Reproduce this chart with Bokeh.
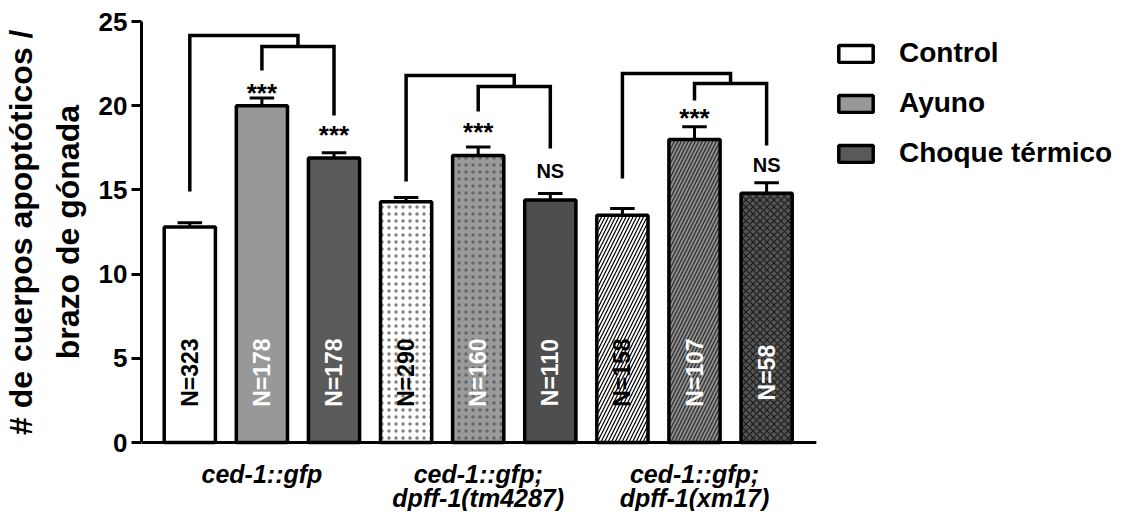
from bokeh.plotting import figure
from bokeh.models import Range1d, FixedTicker, Legend, LegendItem, ColumnDataSource, Title
from bokeh.core.properties import value
from bokeh.embed import file_html
from bokeh.resources import INLINE

# ---------------- data ----------------
groups = ["ced-1::gfp", "ced-1::gfp;\ndpff-1(tm4287)", "ced-1::gfp;\ndpff-1(xm17)"]
conditions = ["Control", "Ayuno", "Choque térmico"]
means = [12.8, 20.0, 16.9, 14.3, 17.05, 14.4, 13.5, 18.0, 14.8]
sems = [0.25, 0.45, 0.3, 0.25, 0.5, 0.38, 0.4, 0.75, 0.62]
n_counts = [323, 178, 178, 290, 160, 110, 158, 107, 58]
sig_labels = ["", "***", "***", "", "***", "NS", "", "***", "NS"]
y_title = ["# de cuerpos apoptóticos /", "brazo de gónada"]
y_ticks = [0, 5, 10, 15, 20, 25]

# annotation layout (y levels of significance marks and brackets)
sig_y = [0, 21.0, 18.5, 0, 18.65, 16.15, 0, 19.5, 16.45]
bracket_outer = [24.17, 21.79, 21.91]
bracket_inner = [23.52, 21.14, 21.32]
leg_end = [14.9, 22.09, 19.42, 15.5, 19.66, 17.46, 15.68, 20.31, 17.64]
label_line_y = [-1.85, -3.3]

FONT = "Liberation Sans"

# styles per bar
fills = ["#ffffff", "#989898", "#5a5a5a",
         "#ffffff", "#9a9a9a", "#4e4e4e",
         "#ffffff", "#8e8e8e", "#555555"]
hatches = ["blank", "blank", "blank",
           "dot", "dot", "blank",
           "right_diagonal_line", "right_diagonal_line", "diagonal_cross"]
hatch_colors = ["#000000", "#000000", "#000000",
                "#808080", "#666666", "#000000",
                "#000000", "#2a2a2a", "#1a1a1a"]
text_colors = ["black", "white", "white"] * 3

xs = [g * 3 + c for g in range(len(groups)) for c in range(len(conditions))]
tops = [m + s for m, s in zip(means, sems)]

src = ColumnDataSource(dict(x=xs, top=means, fill=fills, hatch=hatches,
                            hcol=hatch_colors))

X0, X1 = -0.67, 8.69
PX_PER_X = 72.1
FRAME_W = 979
YMAX = 25
PX_PER_UNIT = 421 / YMAX
FRAME_H = 490
YMIN = YMAX - FRAME_H / PX_PER_UNIT

p = figure(frame_width=FRAME_W, frame_height=FRAME_H,
           x_range=Range1d(X0, X0 + FRAME_W / PX_PER_X), y_range=Range1d(YMIN, YMAX),
           output_backend="svg", toolbar_location=None,
           min_border_left=140, min_border_top=21,
           min_border_bottom=0, min_border_right=0)
p.outline_line_color = None
p.xgrid.grid_line_color = None
p.ygrid.grid_line_color = None
p.background_fill_color = "white"
p.xaxis.visible = False

bars = p.vbar(x="x", top="top", bottom=0, width=0.71, source=src,
              fill_color="fill", line_color="black", line_width=3.5,
              hatch_pattern="hatch", hatch_color="hcol", hatch_scale=7,
              hatch_weight=1.2)

# x axis baseline
p.segment(x0=[X0], y0=[0], x1=[X1], y1=[0], line_color="black", line_width=3)

# error bars (upper only)
p.segment(x0=xs, y0=means, x1=xs, y1=tops, line_color="black", line_width=3)
p.segment(x0=[x - 0.17 for x in xs], y0=tops, x1=[x + 0.17 for x in xs], y1=tops,
          line_color="black", line_width=3)

# N labels
p.text(x=xs, y=[4.15] * len(xs), text=[f"N={n}" for n in n_counts],
       angle=1.5708, text_align="center", text_baseline="middle",
       text_font=value(FONT), text_font_style="bold", text_font_size="23px",
       text_color=text_colors)

# significance labels
star_idx = [i for i, s in enumerate(sig_labels) if s == "***"]
ns_idx = [i for i, s in enumerate(sig_labels) if s == "NS"]
p.text(x=[xs[i] for i in star_idx], y=[sig_y[i] for i in star_idx],
       text=["***"] * len(star_idx), text_align="center", text_baseline="middle",
       y_offset=4, text_font=value(FONT), text_font_style="bold",
       text_font_size="26px", text_color="black")
p.text(x=[xs[i] for i in ns_idx], y=[sig_y[i] for i in ns_idx],
       text=["NS"] * len(ns_idx), text_align="center", text_baseline="middle",
       text_font=value(FONT), text_font_style="bold",
       text_font_size="20px", text_color="black")

# brackets
bx, by = [], []
for g in range(len(groups)):
    i0, i1, i2 = 3 * g, 3 * g + 1, 3 * g + 2
    xm = (xs[i1] + xs[i2]) / 2
    bx.append([xs[i0], xs[i0], xm, xm])
    by.append([leg_end[i0], bracket_outer[g], bracket_outer[g], bracket_inner[g]])
    bx.append([xs[i1], xs[i1], xs[i2], xs[i2]])
    by.append([leg_end[i1], bracket_inner[g], bracket_inner[g], leg_end[i2]])
p.multi_line(xs=bx, ys=by, line_color="black", line_width=3.5,
             line_join="miter")

# group labels below the x axis
gl_x, gl_y, gl_t = [], [], []
for g, lab in enumerate(groups):
    for k, line in enumerate(lab.split("\n")):
        gl_x.append(g * 3 + 1)
        gl_y.append(label_line_y[k])
        gl_t.append(line)
p.text(x=gl_x, y=gl_y, text=gl_t, text_align="center", text_baseline="middle",
       text_font=value(FONT), text_font_style="bold italic",
       text_font_size="25px", text_color="black")

# y axis
ya = p.yaxis[0]
ya.ticker = FixedTicker(ticks=y_ticks)
ya.bounds = (0, YMAX)
ya.minor_tick_line_color = None
ya.major_tick_out = 10
ya.major_tick_in = 0
ya.major_tick_line_width = 3
ya.axis_line_width = 3
ya.major_label_standoff = 4
ya.major_label_text_font = FONT
ya.major_label_text_font_style = "bold"
ya.major_label_text_font_size = "26px"
ya.major_label_text_color = "black"

# y axis title: two lines centred on the 0..25 span
mid_from_top = (YMAX / 2) * PX_PER_UNIT
approx_len = [405, 254]
for k in [1, 0]:
    t = Title(text=y_title[k], align="right",
              offset=mid_from_top - approx_len[k] / 2,
              text_font=FONT, text_font_style="bold", text_font_size="32px",
              text_color="black", standoff=19 if k == 1 else 0)
    p.add_layout(t, "left")

legend = Legend(items=[LegendItem(label=c, renderers=[bars], index=i)
                       for i, c in enumerate(conditions)],
                location=(693, 342), orientation="vertical")
legend.glyph_width = 43
legend.glyph_height = 21
legend.label_standoff = 22
legend.label_text_font = FONT
legend.label_text_font_style = "bold"
legend.label_text_font_size = "28px"
legend.label_text_color = "black"
legend.spacing = 18
legend.margin = 0
legend.padding = 0
legend.border_line_color = None
legend.background_fill_alpha = 0
p.add_layout(legend)

open("out.html", "w").write(file_html(p, INLINE))
